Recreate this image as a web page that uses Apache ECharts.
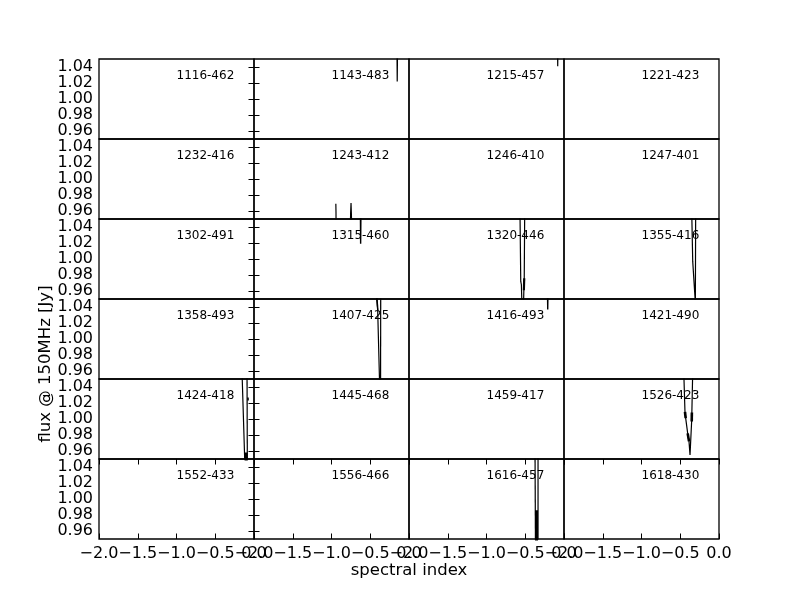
<!DOCTYPE html>
<html>
<head>
<meta charset="utf-8">
<script src="https://cdn.jsdelivr.net/npm/echarts@6/dist/echarts.min.js"></script>
<style>html,body{margin:0;padding:0;background:#fff}#c{width:800px;height:600px}</style>
</head>
<body>
<div id="c"></div>
<script>
// ---- data ----
const panelNames = [
  '1116-462','1143-483','1215-457','1221-423',
  '1232-416','1243-412','1246-410','1247-401',
  '1302-491','1315-460','1320-446','1355-416',
  '1358-493','1407-425','1416-493','1421-490',
  '1424-418','1445-468','1459-417','1526-423',
  '1552-433','1556-466','1616-457','1618-430'
];
const xTicks = [-2.0, -1.5, -1.0, -0.5, 0.0];
const yTicks = [0.96, 0.98, 1.00, 1.02, 1.04];
const xRange = [-2, 0];
const yRange = [0.95, 1.05];
const xTitle = 'spectral index';
const yTitle = 'flux @ 150MHz [Jy]';

// contour lines per panel: [x (spectral index), y (flux)] pairs
const c1143_483 = [[-0.155,1.06],[-0.152,1.022],[-0.148,1.06]];
const c1215_457 = [[-0.083,1.06],[-0.081,1.041],[-0.079,1.06]];
const c1243_412a = [[-0.944,0.969],[-0.942,0.958],[-0.941,0.94]];
const c1243_412b = [[-0.757,0.94],[-0.753,0.958],[-0.748,0.970],[-0.744,0.958],[-0.739,0.94]];
const c1315_460 = [[-0.627,1.06],[-0.624,1.019],[-0.620,1.06]];
const c1320_446a = [[-0.568,1.06],[-0.558,0.972],[-0.550,0.968],[-0.542,0.94]];
const c1320_446b = [[-0.507,1.06],[-0.513,0.976],[-0.518,0.961],[-0.523,0.94]];
const c1320_446c = [[-0.513,0.976],[-0.518,0.961]];
const c1355_416 = [[-0.352,1.06],[-0.339,0.997],[-0.305,0.945],[-0.301,1.06]];
const c1407_425a = [[-0.426,1.06],[-0.404,1.036],[-0.381,0.95],[-0.378,0.94]];
const c1407_425b = [[-0.420,1.06],[-0.402,1.036]];
const c1407_425c = [[-0.365,1.06],[-0.367,0.94]];
const c1416_493 = [[-0.213,1.06],[-0.210,1.037],[-0.207,1.06]];
const c1424_418a = [[-0.155,1.06],[-0.120,0.95],[-0.118,0.94]];
const c1424_418b = [[-0.090,1.06],[-0.086,0.94]];
const c1424_418c = [[-0.101,0.958],[-0.101,0.94]];
const c1424_418d = [[-0.078,1.027],[-0.077,1.023]];
const c1526_423a = [[-0.455,1.06],[-0.439,1.009],[-0.430,1.001],[-0.404,0.982],[-0.387,0.972],[-0.374,0.955],[-0.352,0.999],[-0.339,1.06]];
const c1526_423b = [[-0.439,1.009],[-0.430,1.001]];
const c1526_423c = [[-0.404,0.982],[-0.387,0.972]];
const c1526_423d = [[-0.350,1.008],[-0.352,0.997]];
const c1616_457a = [[-0.374,1.06],[-0.368,0.94]];
const c1616_457b = [[-0.335,1.06],[-0.335,0.94]];
const c1616_457c = [[-0.355,0.986],[-0.355,0.94]];

// [panel index, line data, line width]
const contourLines = [
  [1, c1143_483, 1.2],
  [2, c1215_457, 1.2],
  [5, c1243_412a, 1.2],
  [5, c1243_412b, 1.2],
  [9, c1315_460, 1.4],
  [10, c1320_446a, 1.2],
  [10, c1320_446b, 1.2],
  [10, c1320_446c, 2.2],
  [11, c1355_416, 1.2],
  [13, c1407_425a, 1.2],
  [13, c1407_425b, 1.4],
  [13, c1407_425c, 1.2],
  [14, c1416_493, 1.4],
  [16, c1424_418a, 1.2],
  [16, c1424_418b, 1.2],
  [16, c1424_418c, 3.2],
  [16, c1424_418d, 1.6],
  [19, c1526_423a, 1.2],
  [19, c1526_423b, 2.6],
  [19, c1526_423c, 2.6],
  [19, c1526_423d, 2.6],
  [22, c1616_457a, 1.2],
  [22, c1616_457b, 1.2],
  [22, c1616_457c, 3.0]
];

// ---- layout ----
const NCOL = 4, NROW = 6;
const L0 = 99, T0 = 59, PW = 155, PH = 80;
const FONT = 'DejaVu Sans';
const TICKFS = 16;
const fmtX = v => (v < 0 ? '\u2212' : '') + Math.abs(v).toFixed(1);
const fmtY = v => v.toFixed(2);

const grids = [], xAxes = [], yAxes = [], series = [], graphics = [];
for (let i = 0; i < NCOL * NROW; i++) {
  const r = Math.floor(i / NCOL), c = i % NCOL;
  grids.push({left: L0 + c * PW, top: T0 + r * PH, width: PW, height: PH,
    show: true, borderColor: '#000', borderWidth: 1.3, backgroundColor: 'transparent'});
  const bottom = r === NROW - 1, leftCol = c === 0;
  xAxes.push({type: 'value', gridIndex: i, min: xRange[0], max: xRange[1], interval: 0.5,
    position: 'bottom',
    axisLine: {show: false}, splitLine: {show: false},
    axisTick: {show: bottom, inside: true, length: 5.5, lineStyle: {color: '#000', width: 1}},
    axisLabel: {show: bottom, formatter: fmtX, color: '#000', fontFamily: FONT, fontSize: TICKFS, margin: 7,
      showMinLabel: true, showMaxLabel: true}});
  yAxes.push({type: 'value', gridIndex: i, min: yRange[0], max: yRange[1], position: 'left',
    axisLine: {show: false}, splitLine: {show: false},
    axisTick: {show: leftCol, inside: true, length: 5.5, customValues: yTicks, lineStyle: {color: '#000', width: 1}},
    axisLabel: {show: leftCol, customValues: yTicks, formatter: fmtY, color: '#000', fontFamily: FONT, fontSize: TICKFS, margin: 6}});
  graphics.push({type: 'text', left: L0 + c * PW + 77.5, top: T0 + r * PH + 11,
    style: {text: panelNames[i], font: '12px "DejaVu Sans"', fill: '#000'}});
}
// extra mirrored ticks
for (let i = 0; i < NCOL * NROW; i++) {
  const r = Math.floor(i / NCOL), c = i % NCOL;
  if (r === NROW - 1) {
    xAxes.push({type: 'value', gridIndex: i, min: xRange[0], max: xRange[1], interval: 0.5, position: 'top',
      axisLine: {show: false}, splitLine: {show: false}, axisLabel: {show: false},
      axisTick: {show: true, inside: true, length: 5.5, lineStyle: {color: '#000', width: 1}}});
  }
  if (c === 0) {
    yAxes.push({type: 'value', gridIndex: i, min: yRange[0], max: yRange[1], position: 'right',
      axisLine: {show: false}, splitLine: {show: false}, axisLabel: {show: false},
      axisTick: {show: true, inside: true, length: 5.5, customValues: yTicks, lineStyle: {color: '#000', width: 1}}});
  }
}
contourLines.forEach(([p, d, w]) => {
  series.push({type: 'line', xAxisIndex: p, yAxisIndex: p, data: d, showSymbol: false, symbol: 'none',
    clip: true, silent: true, animation: false, lineStyle: {color: '#000', width: w}});
});
graphics.push({type: 'text', x: 409, y: 571,
  style: {text: xTitle, font: '16.5px "DejaVu Sans"', fill: '#000', align: 'center', verticalAlign: 'middle'}});
graphics.push({type: 'text', x: 46, y: 364, rotation: Math.PI / 2,
  style: {text: yTitle, font: '16.5px "DejaVu Sans"', fill: '#000', align: 'center', verticalAlign: 'middle'}});

const chart = echarts.init(document.getElementById('c'), null, {renderer: 'canvas'});
chart.setOption({
  animation: false,
  backgroundColor: '#fff',
  grid: grids, xAxis: xAxes, yAxis: yAxes, series: series, graphic: graphics
});
</script>
</body>
</html>
